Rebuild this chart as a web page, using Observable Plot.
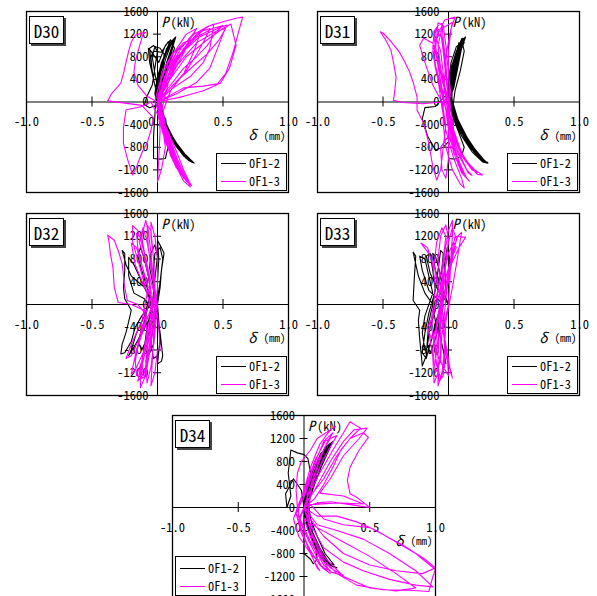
<!DOCTYPE html>
<html><head><meta charset="utf-8">
<script src="https://cdn.jsdelivr.net/npm/d3@7"></script>
<script src="https://cdn.jsdelivr.net/npm/@observablehq/plot@0.6"></script>
<style>
body{margin:0;background:#fff;}
#root{position:relative;width:597px;height:596px;overflow:hidden;background:#fff;line-height:1;font-family:"Noto Sans Mono CJK JP","Liberation Mono","DejaVu Sans Mono",monospace;}
#root svg{position:absolute;overflow:visible;}
.tag{position:absolute;border:1px solid #000;background:#fff;box-shadow:2px 2px 0 #444;font-size:17px;line-height:17px;display:flex;align-items:center;justify-content:center;box-sizing:border-box;color:#000;}
.legend{position:absolute;border:1.5px solid #000;background:#fff;font-size:12.4px;line-height:13px;box-sizing:border-box;display:flex;flex-direction:column;justify-content:flex-start;padding:2px 1px 0 4px;white-space:nowrap;}
.row{display:flex;align-items:center;height:18px;line-height:13px;white-space:nowrap;}
.sw{display:inline-block;width:25px;height:0;margin-right:3px;flex:none;}
</style></head>
<body><div id="root"></div>
<script>
const xTicks = [-1, -0.5, 0, 0.5, 1];
const xTickLabels = ["-1.0", "-0.5", "0.0", "0.5", "1.0"];
const yTicks = [1600, 1200, 800, 400, 0, -400, -800, -1200, -1600];
const yTickLabels = ["1600", "1200", "800", "400", "0", "-400", "-800", "-1200", "-1600"];
const seriesNames = ["0F1-2", "0F1-3"];
const seriesColors = ["#000000", "#ff00ff"];
const panelNames = ["D30", "D31", "D32", "D33", "D34"];

// [δ (mm), P (kN)]
const d30_of12 = [[0,0],[0.03,300],[0.07,700],[0.12,1050],[0.09,1000],[0.03,700],[-0.01,300],[0,0],[0.04,-300],[0.1,-600],[0.18,-850],[0.26,-1040],[0.22,-1000],[0.14,-780],[0.06,-450],[0.02,-150],
[0.01,100],[0.05,450],[0.1,850],[0.14,1150],[0.11,1080],[0.05,800],[0,450],[-0.02,150],[0,-50],[0.05,-350],[0.12,-680],[0.2,-900],[0.28,-1080],[0.24,-1040],[0.16,-820],[0.08,-520],[0.03,-200],
[0,100],[-0.03,400],[-0.05,700],[-0.06,950],[-0.03,1000],[0,900],[-0.02,600],[-0.04,300],[-0.08,100],[-0.1,-50],[-0.06,-100],[0,-50],[0.06,-400],[0.14,-720],[0.22,-960],[0.25,-1020],[0.2,-960],[0.1,-640],[0.04,-300],[0,0],
[0.02,350],[0.06,750],[0.1,1000],[0.08,1060],[0.03,880],[-0.03,900],[-0.05,800],[-0.04,500],[-0.01,200],[-0.02,-250],[-0.03,-600],[-0.03,-1000],[0.02,-1010],[0.06,-1000],[0.08,-800],[0.05,-500],[0.02,-200],[0.03,200],[0.08,600],[0.13,950],[0.1,1100],[0.06,1000],[0.01,700],[-0.05,900],[-0.07,950],[-0.06,700],[-0.03,400],[0,100],
[0.04,-300],[0.12,-650],[0.21,-920],[0.27,-1060],[0.25,-1050],[0.17,-860],[0.09,-560],[0.03,-250],[0.02,100],[0.06,500],[0.1,800],[0.13,1100],[0.09,1050],[0.04,750],[0,400],[0.01,0],
[0.07,-430],[0.15,-760],[0.23,-990],[0.265,-1070],[0.23,-1010],[0.15,-790],[0.07,-480],[0.02,-120],[0.04,300],[0.09,700],[0.12,1000],[0.1,1020],[0.05,780],[0.01,350],[0.03,-200],[0.09,-520],[0.17,-820],[0.24,-1000],[0.2,-950],[0.12,-700],[0.05,-380],[0.01,-50],
[0.03,250],[0.07,650],[0.11,950],[0.135,1120],[0.1,1050],[0.04,700],[0,350],[0.02,-100],[0.07,-400],[0.13,-680],[0.19,-880],[0.25,-1020],[0.27,-1070],[0.24,-1030],[0.16,-800],[0.08,-500],[0.03,-180],[0.01,150],[-0.02,500],[-0.04,800],[-0.02,980],[0.02,950],[0.05,850],[0.04,500],[0.01,100],[0.06,-350],[0.13,-700],[0.2,-930],[0.26,-1060],[0.21,-970],[0.13,-700],[0.06,-420],[0.01,-100],[0.05,300],[0.09,750],[0.12,1080],[0.07,950],[0.02,550],[0,0]];

const d30_of13 = [[0,0],[0.05,400],[0.1,700],[0.15,900],[0.12,880],[0.05,600],[0,200],[-0.02,0],[0.03,-300],[0.08,-650],[0.12,-900],[0.15,-1100],[0.12,-1050],[0.06,-700],[0.01,-300],[0,0],
[0.08,400],[0.16,700],[0.22,950],[0.26,1100],[0.2,1050],[0.1,800],[0.03,400],[0,50],[0.04,-400],[0.1,-800],[0.16,-1150],[0.18,-1260],[0.14,-1150],[0.07,-750],[0.02,-300],
[0.1,200],[0.2,500],[0.28,900],[0.33,1250],[0.27,1200],[0.18,950],[0.08,550],[0.01,100],[0.05,-450],[0.12,-900],[0.2,-1300],[0.23,-1400],[0.2,-1350],[0.1,-900],[0.03,-350],
[-0.05,0],[-0.12,-80],[-0.2,-120],[-0.24,-140],[-0.26,-450],[-0.26,-730],[-0.23,-1000],[-0.19,-1290],[-0.16,-1150],[-0.14,-1020],[-0.11,-850],[-0.08,-730],[-0.05,-500],[-0.03,-280],[-0.12,-60],[-0.25,-20],[-0.38,20],[-0.35,150],[-0.28,335],[-0.26,500],[-0.24,700],[-0.22,900],[-0.2,1060],[-0.17,1180],[-0.12,1220],[-0.09,1230],[-0.11,1200],[-0.13,1050],[-0.15,880],[-0.17,700],[-0.18,530],[-0.15,300],[-0.08,100],[0,0],
[0.02,-500],[0.01,-1000],[0,-1410],[0.03,-1200],[0.06,-800],[0.03,-300],[0,0],
[0.15,150],[0.3,350],[0.4,600],[0.45,900],[0.5,1200],[0.53,1360],[0.46,1300],[0.32,1150],[0.2,900],[0.1,550],[0.02,100],[0.06,-400],[0.14,-850],[0.2,-1200],[0.24,-1400],[0.26,-1480],[0.22,-1400],[0.12,-950],[0.04,-400],[0,0],
[0.2,100],[0.35,200],[0.45,300],[0.52,500],[0.58,900],[0.62,1250],[0.65,1500],[0.6,1480],[0.5,1420],[0.4,1350],[0.3,1200],[0.2,950],[0.1,550],[0.02,100],[0.07,-500],[0.15,-1000],[0.21,-1300],[0.25,-1500],[0.2,-1400],[0.1,-950],[0.03,-400],[0,0],
[0.1,300],[0.2,600],[0.3,800],[0.38,1000],[0.45,1250],[0.5,1350],[0.42,1300],[0.3,1150],[0.15,800],[0.05,300],[0,0],
[0.12,250],[0.25,450],[0.35,700],[0.4,950],[0.43,1380],[0.38,1330],[0.28,1200],[0.15,900],[0.05,400],[0.01,0],[0.08,-600],[0.14,-1000],[0.18,-1200],[0.15,-1150],[0.08,-700],[0.02,-250],
[0.1,500],[0.18,850],[0.26,1160],[0.3,1300],[0.22,1200],[0.12,850],[0.04,350],[0,0],
[0.2,250],[0.35,280],[0.48,330],[0.55,600],[0.6,1000],[0.56,1380],[0.5,1300],[0.38,1100],[0.22,800],[0.08,350],[0,0],
[0.1,250],[0.22,550],[0.3,850],[0.36,1100],[0.4,1300],[0.34,1250],[0.24,1050],[0.12,700],[0.04,250],[0,0],[0.14,350],[0.28,650],[0.38,850],[0.47,1100],[0.52,1300],[0.45,1250],[0.3,1050],[0.15,650],[0.05,200],[0,0],
[0.05,-500],[0.11,-950],[0.17,-1250],[0.2,-1330],[0.16,-1200],[0.08,-750],[0.02,-250],[0,0]];

const d31_of12 = [[0,0],[0.03,300],[0.05,600],[0.08,900],[0.11,1130],[0.1,1080],[0.06,900],[0.02,600],[0,300],[-0.02,50],[0.03,-200],[0.1,-500],[0.18,-800],[0.25,-1000],[0.3,-1080],[0.26,-1060],[0.18,-880],[0.1,-600],[0.04,-300],[0,0],
[0.04,250],[0.07,600],[0.1,950],[0.13,1150],[0.11,1100],[0.06,850],[0.02,500],[0.01,200],[0.05,-250],[0.12,-550],[0.2,-830],[0.28,-1050],[0.24,-1010],[0.15,-760],[0.07,-420],[0.02,-100],
[0.02,300],[0.04,650],[0.07,950],[0.1,1050],[0.06,980],[0.02,700],[0,400],[0.02,100],[0.07,-300],[0.14,-620],[0.22,-900],[0.29,-1070],[0.26,-1040],[0.17,-800],[0.09,-480],[0.03,-150],
[0.05,200],[0.09,550],[0.12,900],[0.11,1000],[0.07,800],[0.02,450],[-0.01,150],
[-0.1,-80],[-0.18,-100],[-0.2,-300],[-0.16,-600],[-0.1,-850],[-0.04,-800],[0,-700],[0,-1000],[0.05,-1010],[0.1,-950],[0.12,-800],[0.08,-550],[0.03,-250],[0,0],
[0.03,400],[0.06,750],[0.09,1000],[0.08,1050],[0.04,700],[0.01,350],[0.04,-150],[0.1,-450],[0.16,-700],[0.23,-930],[0.27,-1030],[0.22,-960],[0.13,-680],[0.05,-330],[0.01,0],
[0.04,350],[0.07,700],[0.09,950],[0.12,1100],[0.1,1120],[0.05,800],[0.01,450],[0,150],[0.06,-250],[0.13,-580],[0.21,-870],[0.28,-1060],[0.3,-1070],[0.25,-1020],[0.16,-740],[0.08,-430],[0.02,-120],[0.03,250],[0.06,600],[0.09,850],[0.1,950],[0.06,750],[0.02,400],[0.03,-100],[0.09,-420],[0.16,-720],[0.24,-980],[0.28,-1040],[0.2,-880],[0.11,-560],[0.04,-220],[0.02,200],[0.05,550],[0.08,850],[0.12,1050],[0.09,1000],[0.04,650],[0,250],[0,0]];

const d31_of13 = [[0,0],[-0.04,300],[-0.08,700],[-0.1,1000],[-0.08,1200],[-0.05,1150],[-0.03,800],[-0.01,400],[0,0],[0,-300],[0.03,-700],[0.08,-1100],[0.12,-1300],[0.1,-1250],[0.04,-900],[0,-500],[-0.02,-150],
[-0.06,300],[-0.1,650],[-0.12,950],[-0.11,1250],[-0.08,1350],[-0.05,1390],[-0.04,1100],[-0.02,700],[-0.01,300],[0.01,-200],[0.05,-600],[0.12,-1000],[0.2,-1200],[0.26,-1290],[0.22,-1280],[0.13,-1050],[0.06,-700],[0.01,-300],
[-0.03,200],[-0.06,600],[-0.08,1000],[-0.05,1300],[0.03,1410],[0.01,1200],[-0.02,800],[-0.03,400],[-0.04,0],[-0.04,-400],[-0.02,-800],[0.03,-1200],[0.09,-1450],[0.12,-1520],[0.1,-1350],[0.04,-1000],[-0.02,-500],[-0.05,-100],
[-0.08,400],[-0.11,800],[-0.1,1100],[-0.03,1450],[0.05,1500],[0.02,1300],[0,900],[0,500],[0.02,100],
[-0.05,0],[-0.2,-30],[-0.35,-10],[-0.42,30],[-0.41,200],[-0.4,440],[-0.42,700],[-0.44,920],[-0.48,1100],[-0.52,1240],[-0.5,1220],[-0.45,1100],[-0.38,900],[-0.34,740],[-0.3,550],[-0.27,350],[-0.24,90],[-0.24,-140],[-0.19,-370],[-0.15,-730],[-0.12,-1140],[-0.09,-1380],[-0.06,-1200],[-0.04,-800],[-0.02,-400],[-0.05,0],
[-0.12,300],[-0.18,700],[-0.22,1000],[-0.19,1130],[-0.12,1040],[-0.07,700],[-0.03,300],[0,0],
[0.02,-400],[0.07,-900],[0.15,-1250],[0.18,-1300],[0.14,-1200],[0.06,-800],[0,-300],[-0.06,200],[-0.1,600],[-0.12,900],[-0.09,1100],[-0.06,900],[-0.04,500],[-0.02,100],[0,-400],[0.05,-900],[0.1,-1150],[0.07,-1000],[0,-600],[-0.06,-800],[-0.05,-1200],[-0.02,-1350],[0,-1000],[0,-500],[0,0],
[-0.05,400],[-0.09,800],[-0.11,1150],[-0.09,1300],[-0.06,1250],[-0.04,900],[-0.02,450],[0,0],[0.02,-500],[0.07,-1000],[0.14,-1350],[0.16,-1400],[0.12,-1300],[0.05,-850],[0,-400],[-0.03,0],[-0.07,500],[-0.1,900],[-0.08,1400],[-0.04,1350],[-0.02,1000],[0,500],[0.01,0],[0.04,-500],[0.1,-900],[0.17,-1150],[0.22,-1250],[0.18,-1200],[0.1,-950],[0.03,-550],[0,-100]];

const d32_of12 = [[0,0],[0,400],[0.01,800],[0,1130],[0.03,1000],[0.05,900],[0.03,600],[0.02,300],[0,0],[0.01,-300],[0.02,-600],[0,-1040],[0.03,-1000],[0.04,-900],[0.02,-500],[0,-200],
[-0.05,100],[-0.1,300],[-0.15,400],[-0.2,500],[-0.24,700],[-0.27,950],[-0.25,900],[-0.25,600],[-0.26,300],[-0.25,100],[-0.2,-100],[-0.22,-300],[-0.24,-490],[-0.27,-700],[-0.28,-870],[-0.25,-850],[-0.2,-650],[-0.17,-400],[-0.12,-200],[-0.05,0],
[-0.08,300],[-0.12,600],[-0.15,850],[-0.13,1000],[-0.1,800],[-0.07,500],[-0.05,200],[-0.1,-200],[-0.16,-500],[-0.2,-800],[-0.22,-900],[-0.18,-750],[-0.12,-500],[-0.05,-200],
[-0.02,200],[-0.03,600],[-0.02,900],[0.02,1000],[0.04,800],[0.02,400],[0,100],[-0.03,-300],[-0.05,-700],[-0.03,-950],[0,-900],[0.02,-700],[0.01,-300],
[-0.1,100],[-0.18,200],[-0.22,500],[-0.22,830],[-0.18,700],[-0.12,400],[-0.06,100],[-0.1,-300],[-0.15,-650],[-0.12,-800],[-0.08,-600],[-0.04,-300],[0,0],
[-0.03,300],[-0.06,650],[-0.05,900],[-0.02,1050],[0,850],[-0.02,450],[-0.04,0],[-0.08,-400],[-0.1,-750],[-0.07,-900],[-0.03,-700],[-0.02,-300],[0,0]];

const d32_of13 = [[0,0],[-0.05,400],[-0.1,900],[-0.12,1200],[-0.09,1480],[-0.07,1300],[-0.05,900],[-0.03,400],[-0.02,0],[-0.05,-400],[-0.1,-900],[-0.13,-1200],[-0.13,-1460],[-0.1,-1300],[-0.06,-800],[-0.03,-300],
[-0.08,200],[-0.14,700],[-0.19,1100],[-0.19,1390],[-0.15,1300],[-0.1,900],[-0.06,400],[-0.04,0],[-0.1,-400],[-0.16,-800],[-0.2,-1220],[-0.17,-1150],[-0.1,-800],[-0.05,-300],
[-0.02,300],[-0.03,800],[-0.05,1200],[-0.05,1450],[-0.02,1200],[0,800],[0,300],[-0.02,-200],[-0.03,-600],[-0.04,-1000],[-0.05,-1430],[-0.02,-1200],[0,-800],[0.02,-810],[0.01,-400],[-0.01,0],
[-0.1,300],[-0.17,700],[-0.2,1080],[-0.16,1000],[-0.12,700],[-0.07,300],[-0.12,-300],[-0.2,-700],[-0.24,-950],[-0.2,-900],[-0.14,-600],[-0.08,-200],
[-0.15,0],[-0.23,70],[-0.25,300],[-0.27,720],[-0.3,950],[-0.33,1130],[-0.38,1220],[-0.37,1100],[-0.36,900],[-0.34,650],[-0.33,300],[-0.3,35],[-0.2,0],[-0.1,-100],
[-0.08,-500],[-0.12,-1000],[-0.15,-1350],[-0.1,-1200],[-0.06,-700],[-0.04,-200],[-0.06,400],[-0.1,800],[-0.14,1100],[-0.11,1350],[-0.08,1100],[-0.04,600],[-0.01,100],[-0.06,-500],[-0.09,-1000],[-0.08,-1380],[-0.05,-1100],[-0.02,-500],[0,0],
[-0.04,500],[-0.07,1000],[-0.08,1400],[-0.05,1300],[-0.03,800],[-0.02,200],[-0.07,-400],[-0.11,-900],[-0.12,-1300],[-0.09,-1250],[-0.05,-700],[-0.02,-100],[-0.1,500],[-0.15,1000],[-0.16,1250],[-0.12,1150],[-0.08,700],[-0.05,150],[-0.13,-500],[-0.17,-1000],[-0.16,-1250],[-0.12,-1000],[-0.07,-500],[0,0]];

const d33_of12 = [[0,0],[-0.05,300],[-0.1,600],[-0.12,900],[-0.1,850],[-0.07,600],[-0.04,300],[-0.05,0],[-0.08,-300],[-0.06,-600],[-0.04,-810],[-0.02,-1040],[-0.03,-900],[-0.06,-600],[-0.1,-300],[-0.12,0],
[-0.18,200],[-0.23,500],[-0.27,920],[-0.25,850],[-0.26,500],[-0.27,70],[-0.22,-100],[-0.23,-280],[-0.22,-600],[-0.2,-1080],[-0.17,-900],[-0.16,-600],[-0.15,-300],[-0.12,0],
[-0.1,300],[-0.08,600],[-0.06,950],[-0.04,900],[-0.05,600],[-0.08,300],[-0.1,-100],[-0.14,-400],[-0.16,-700],[-0.14,-850],[-0.1,-600],[-0.06,-300],[-0.04,0],
[-0.15,250],[-0.2,600],[-0.22,850],[-0.18,800],[-0.15,500],[-0.12,200],[-0.18,-200],[-0.2,-500],[-0.18,-800],[-0.14,-700],[-0.1,-400],[-0.06,-100],[-0.02,300],[-0.03,700],[-0.01,1000],[0.01,800],[0,400],[0,0],
[-0.08,250],[-0.14,550],[-0.17,850],[-0.14,900],[-0.12,600],[-0.1,250],[-0.15,-150],[-0.18,-500],[-0.2,-850],[-0.17,-950],[-0.13,-600],[-0.09,-250],[-0.05,0]];

const d33_of13 = [[0,0],[0.01,400],[0.02,900],[0.03,1200],[0.03,1480],[0,1300],[-0.03,900],[-0.05,400],[-0.06,0],[-0.07,-400],[-0.08,-900],[-0.08,-1430],[-0.05,-1200],[-0.03,-800],[-0.02,-300],
[0.03,300],[0.06,700],[0.1,1270],[0.07,1200],[0.03,900],[0,500],[-0.02,100],[-0.04,-400],[-0.02,-900],[0.03,-1290],[0.01,-1100],[-0.02,-700],[-0.05,-300],
[-0.07,200],[-0.1,600],[-0.15,900],[-0.21,1080],[-0.16,1000],[-0.12,700],[-0.1,300],[-0.12,-100],[-0.15,-500],[-0.12,-900],[-0.11,-1380],[-0.08,-1200],[-0.06,-800],[-0.06,-300],
[-0.03,200],[0,600],[0.05,1200],[0.13,1180],[0.08,1000],[0.02,700],[-0.02,300],[-0.05,-100],[-0.08,-600],[-0.1,-1000],[-0.06,-1300],[-0.03,-1100],[-0.03,-600],[-0.04,-200],
[-0.08,300],[-0.11,700],[-0.09,1100],[-0.05,1350],[-0.02,1200],[-0.04,800],[-0.07,400],[-0.1,0],[-0.13,-400],[-0.1,-800],[-0.04,-1100],[0,-1250],[-0.01,-900],[-0.04,-500],[-0.06,-100],
[-0.03,400],[0.02,800],[0.06,1000],[0.04,1100],[0,900],[-0.04,500],[-0.08,100],[-0.12,-200],[-0.16,-400],[-0.13,-600],[-0.09,-400],[-0.05,0],
[0,400],[0.03,800],[0.06,1150],[0.03,1350],[0,1100],[-0.03,600],[-0.06,100],[-0.09,-400],[-0.1,-900],[-0.07,-1350],[-0.04,-1250],[-0.03,-800],[-0.04,-300],[-0.06,300],[-0.08,800],[-0.06,1200],[-0.02,1400],[0,1150],[-0.02,700],[-0.05,200],[-0.09,-300],[-0.12,-800],[-0.1,-1200],[-0.06,-1000],[-0.05,-500],[0,0]];

const d34_of12 = [[0,0],[0.04,300],[0.08,600],[0.14,900],[0.2,1100],[0.22,1150],[0.18,1080],[0.1,800],[0.04,450],[0,100],[0.02,-200],[0.06,-500],[0.12,-800],[0.2,-1000],[0.25,-1050],[0.2,-1000],[0.12,-750],[0.05,-400],[0,0],
[0.06,300],[0.1,600],[0.15,850],[0.19,1050],[0.15,1000],[0.08,700],[0.03,350],[0.01,0],[0.04,-300],[0.08,-600],[0.14,-900],[0.22,-1030],[0.17,-950],[0.1,-650],[0.04,-300],
[0.02,200],[0.06,500],[0.12,800],[0.17,1000],[0.13,950],[0.06,600],[0.01,200],[0,-200],[0,-500],[0,-800],[0.05,-900],[0.07,-980],[0.1,-900],[0.08,-600],[0.03,-300],[0,0],
[-0.02,300],[-0.08,500],[-0.14,240],[-0.13,0],[-0.1,200],[-0.12,600],[-0.1,1000],[-0.05,950],[0,920],[0.03,850],[0.05,600],[0.02,300],[0.05,-200],[0.1,-500],[0.16,-800],[0.23,-1000],[0.19,-960],[0.12,-700],[0.05,-350],[0.02,0],
[0.08,400],[0.13,700],[0.18,950],[0.21,1100],[0.16,1050],[0.08,650],[0.02,200],[0.03,-250],[0.09,-550],[0.15,-850],[0.21,-1000],[0.15,-900],[0.07,-500],[0,-100],
[0.05,350],[0.1,700],[0.16,950],[0.2,1080],[0.17,1060],[0.1,750],[0.04,400],[0,50],[0.04,-350],[0.09,-650],[0.16,-900],[0.23,-1040],[0.19,-990],[0.11,-680],[0.04,-320],[0,0],[0.07,450],[0.12,750],[0.17,1000],[0.13,920],[0.06,550],[0.01,150],[0.02,-300],[0.07,-600],[0.12,-850],[0.18,-1000],[0.14,-900],[0.07,-550],[0.01,-150]];

const d34_of13 = [[0,0],[0.04,300],[0.1,700],[0.15,1000],[0.2,1200],[0.16,1150],[0.08,800],[0.02,400],[-0.03,100],[-0.05,-200],[0,-500],[0.07,-900],[0.12,-1100],[0.1,-1050],[0.03,-700],[-0.03,-300],[-0.05,0],
[-0.06,300],[-0.05,600],[-0.02,800],[0.05,1000],[0.1,1200],[0.24,1410],[0.2,1350],[0.12,1100],[0.05,700],[0,300],[-0.05,0],[-0.08,-200],[-0.04,-500],[0.05,-800],[0.15,-1050],[0.2,-1100],[0.15,-1000],[0.05,-600],[-0.03,-200],
[0.03,200],[0.12,600],[0.22,1000],[0.3,1300],[0.35,1490],[0.4,1420],[0.43,1380],[0.35,1200],[0.28,1000],[0.22,700],[0.15,400],[0.08,150],[0,0],
[0.1,-150],[0.25,-150],[0.4,-250],[0.55,-400],[0.7,-600],[0.85,-800],[1.0,-1080],[0.98,-1200],[0.95,-1460],[0.8,-1440],[0.6,-1430],[0.4,-1350],[0.25,-1150],[0.15,-900],[0.06,-500],[0,0],
[0.05,200],[0.15,500],[0.25,900],[0.35,1200],[0.45,1300],[0.49,1220],[0.42,1000],[0.35,700],[0.33,470],[0.35,240],[0.4,180],[0.5,0],[0.35,50],[0.2,100],[0.1,80],[0,0],
[0.1,-300],[0.25,-400],[0.45,-550],[0.65,-800],[0.85,-1100],[0.98,-1380],[0.85,-1350],[0.65,-1250],[0.45,-1100],[0.3,-950],[0.15,-700],[0.05,-300],[0,0],
[0.08,300],[0.2,800],[0.3,1150],[0.38,1350],[0.48,1380],[0.42,1200],[0.3,900],[0.2,500],[0.12,250],[0.3,200],[0.45,60],[0.25,80],[0.05,50],
[0.15,-200],[0.3,-300],[0.5,-350],[0.75,-650],[0.92,-900],[1.0,-1050],[0.9,-1150],[0.7,-1100],[0.5,-1000],[0.3,-800],[0.15,-500],[0.03,-150],
[0.06,400],[0.14,800],[0.2,1050],[0.25,1250],[0.2,1200],[0.1,800],[0.02,300],[0.05,-400],[0.12,-800],[0.2,-1050],[0.3,-1180],[0.2,-1120],[0.08,-700],[0,-200],
[0.1,-350],[0.3,-600],[0.5,-850],[0.7,-1150],[0.85,-1400],[0.7,-1450],[0.5,-1400],[0.3,-1200],[0.15,-850],[0.05,-400],[0,0],
[0.06,450],[0.12,850],[0.18,1150],[0.22,1300],[0.15,1150],[0.07,700],[0,200],[-0.06,-100],[-0.02,-450],[0.05,-750],[0.12,-1000],[0.2,-1150],[0.14,-1050],[0.04,-600],[-0.04,-200],[0,0]];

const panelSeries = [[d30_of12, d30_of13],[d31_of12, d31_of13],[d32_of12, d32_of13],[d33_of12, d33_of13],[d34_of12, d34_of13]];

// page layout (pixels of each plot frame)
const layout = [
  {left: 26, top: 11, w: 262, h: 181, legend: "br"},
  {left: 317, top: 11, w: 262, h: 181, legend: "br"},
  {left: 26, top: 213, w: 262, h: 182, legend: "br"},
  {left: 317, top: 213, w: 262, h: 182, legend: "br"},
  {left: 172, top: 415, w: 263, h: 184, legend: "bl"}
];

const root = document.getElementById("root");
const FONT = '"Noto Sans Mono CJK JP","Liberation Mono","DejaVu Sans Mono",monospace';
const ML = 45, MR = 12, MT = 12, MB = 12;

layout.forEach((L, k) => {
  const [s12, s13] = panelSeries[k];
  const svg = Plot.plot({
    width: L.w + ML + MR, height: L.h + MT + MB,
    marginLeft: ML, marginRight: MR, marginTop: MT, marginBottom: MB,
    x: {domain: [-1, 1], axis: null},
    y: {domain: [-1600, 1600], axis: null},
    style: {fontFamily: FONT, fontSize: "12px", background: "transparent", overflow: "visible", color: "#000"},
    marks: [
      Plot.ruleY([0], {stroke: "#000", strokeWidth: 1}),
      Plot.ruleX([0], {stroke: "#000", strokeWidth: 1}),
      Plot.ruleX(xTicks, {x: d => d, y1: 0, y2: 0, insetTop: -5, insetBottom: -5, stroke: "#000", strokeWidth: 1}),
      Plot.ruleY(yTicks, {y: d => d, x1: 0, x2: 0, insetLeft: -4, insetRight: -4, stroke: "#000", strokeWidth: 1}),
      Plot.text(xTicks, {x: d => d, y: 0, dy: 20, text: (d, i) => xTickLabels[i], fontSize: 12.5, fill: "#000"}),
      Plot.text(yTicks, {x: 0, y: d => d, dx: -9, textAnchor: "end", text: (d, i) => yTickLabels[i], fontSize: 12.5, fill: "#000"}),
      Plot.text(["P"], {x: 0, y: 1600, dx: 4, dy: 11, textAnchor: "start", text: d => d, fontStyle: "italic", fontSize: 14, fill: "#000"}),
      Plot.text(["(kN)"], {x: 0, y: 1600, dx: 13, dy: 11, textAnchor: "start", text: d => d, fontSize: 12.5, fill: "#000"}),
      Plot.text(["δ"], {x: 1, y: 0, dx: -32, dy: 34, textAnchor: "end", text: d => d, fontStyle: "italic", fontSize: 14, fill: "#000"}),
      Plot.text(["(mm)"], {x: 1, y: 0, dx: -3, dy: 34, textAnchor: "end", text: d => d, fontSize: 11, fill: "#000"}),
      Plot.line(s12, {x: d => d[0], y: d => d[1], stroke: seriesColors[0], strokeWidth: 1.1, clip: true}),
      Plot.line(s13, {x: d => d[0], y: d => d[1], stroke: seriesColors[1], strokeWidth: 1.1, clip: true}),
      Plot.frame({stroke: "#000", strokeWidth: 1.3})
    ]
  });
  svg.style.left = (L.left - ML) + "px";
  svg.style.top = (L.top - MT) + "px";
  root.appendChild(svg);

  const tag = document.createElement("div");
  tag.className = "tag";
  tag.style.fontFamily = FONT;
  tag.style.left = (L.left + 3) + "px";
  tag.style.top = (L.top + 5) + "px";
  tag.style.width = "35px";
  tag.style.height = "28px";
  tag.textContent = panelNames[k];
  root.appendChild(tag);

  const lg = document.createElement("div");
  lg.className = "legend";
  lg.style.fontFamily = FONT;
  if (L.legend === "br") {
    lg.style.left = (L.left + L.w - 72) + "px";
    lg.style.top = (L.top + L.h - 39) + "px";
    lg.style.width = "71px";
    lg.style.height = "38px";
    lg.style.paddingTop = "0px";
  } else {
    lg.style.left = (L.left + 3) + "px";
    lg.style.top = (L.top + L.h - 43) + "px";
    lg.style.width = "71px";
    lg.style.height = "40px";
    lg.style.paddingTop = "3px";
  }
  seriesNames.forEach((nm, j) => {
    const row = document.createElement("div");
    row.className = "row";
    const sw = document.createElement("span");
    sw.className = "sw";
    sw.style.borderTop = "1px solid " + seriesColors[j];
    const tx = document.createElement("span");
    tx.textContent = nm;
    row.appendChild(sw); row.appendChild(tx);
    lg.appendChild(row);
  });
  root.appendChild(lg);
});
</script></body></html>
